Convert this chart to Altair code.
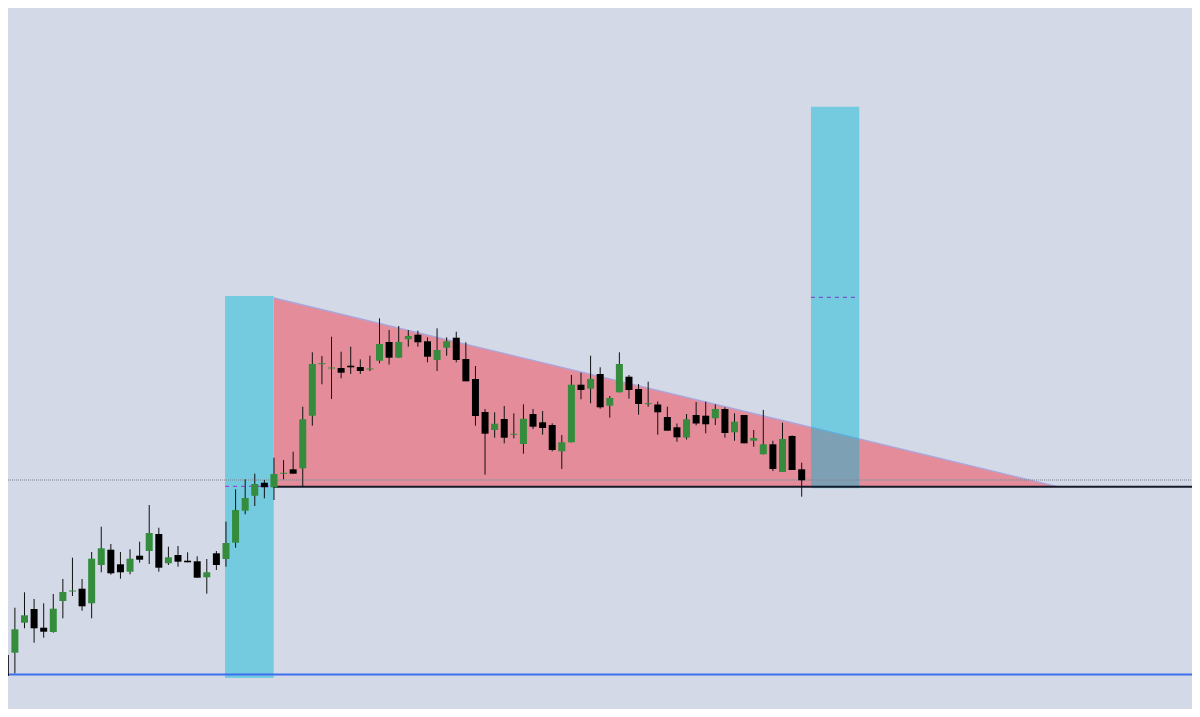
import altair as alt
import pandas as pd

# ---- candle data (price units) ----
opens = [62, 64.3, 94.3, 108, 89.3, 85, 116, 125.5, 128.3, 113.7,
         152, 167.3, 152.7, 145.3, 161.3, 166, 183, 153.7, 162, 156.3,
         155.7, 139.7, 163.7, 158, 174.3, 206.3, 221.3, 234.3, 229.7, 243.2,
         247.7, 248.7, 301.3, 352.8, 348.5, 349, 351.3, 350, 347.5, 356.3,
         375, 359.3, 377.7, 382.3, 375.7, 357, 369.3, 379.3, 358, 338,
         305, 287, 298, 282.2, 273, 303, 294.7, 292, 265.7, 274.7,
         332.3, 328.3, 343, 311.3, 324.7, 340.3, 328, 312.8, 312.5, 300,
         289.7, 279.5, 302, 301.3, 298.7, 308, 284.7, 302, 276.3, 262.7,
         272.7, 245, 281, 247.7]
highs = [63, 109.3, 124.7, 118, 113.7, 123, 138, 159.3, 138, 165,
         190.3, 173, 165, 167.7, 175.3, 212, 189.3, 170.3, 171, 164.7,
         160.7, 158, 166, 195.3, 227.7, 237.7, 243.3, 237, 259.3, 257,
         265.3, 310.3, 364.7, 361, 380.3, 365.3, 370.3, 357.7, 361.3, 398.7,
         387, 391, 387, 386.3, 379.7, 388.7, 379.7, 385.3, 374.7, 351,
         308, 304.7, 311, 303.7, 312.7, 308, 306, 293.7, 282, 342,
         344.3, 361.3, 349.7, 321, 364.7, 342, 333, 335.3, 315.5, 310.3,
         293.5, 303, 315, 315.3, 312.7, 309.7, 303.7, 302, 287, 307,
         276.3, 294.3, 281.7, 254.3]
lows = [36, 43.7, 88.7, 74.3, 79.3, 84.3, 98.7, 121, 106.3, 98.7,
        144.7, 142.3, 138.3, 142.7, 154.3, 153, 145.3, 152, 150.3, 154.7,
        139.3, 123.3, 147, 150.3, 169.3, 202.7, 211, 218.7, 217, 237.7,
        243.3, 230.3, 291.3, 332.7, 318, 338.7, 343, 343, 346, 353.7,
        352.5, 359.3, 370.3, 370.3, 354.7, 346, 361.3, 354.7, 335.7, 291.3,
        242.3, 279.3, 273.7, 278.7, 263.3, 288, 282.3, 265.7, 248, 274.7,
        317.7, 313.7, 308.3, 299.3, 324.7, 318.3, 302.3, 310.3, 282.3, 286.3,
        275.2, 277.5, 291.7, 283.7, 292, 279.3, 276.3, 273.7, 270.3, 262.7,
        246, 245, 247, 220.3]
closes = [41, 87.7, 101.7, 88.7, 85.3, 108.3, 125, 126.5, 110.7, 158.3,
          168.7, 143.7, 144.7, 158.3, 157.3, 184, 149.3, 159.7, 155.3, 154.7,
          139.3, 144.7, 152, 174, 207, 219, 233, 229.7, 243, 244.2,
          243.3, 297.7, 353, 353.8, 349.5, 344.3, 349.7, 346, 348.5, 373,
          359.3, 375, 381, 374.7, 360.3, 367, 375.7, 357, 335.7, 301,
          283.3, 293.3, 279.3, 283.2, 298.3, 290.3, 289, 267, 274.7, 332.3,
          327, 338, 309.7, 319, 353, 327, 313, 313.8, 304.7, 286.3,
          279.7, 297.7, 293.5, 292.7, 308, 284, 295.3, 273.7, 279, 272.7,
          248, 278, 247, 236.7]

# ---- annotation levels (same price units / bar-index units) ----
support_level = 230.3
dotted_level = 237
blue_level = 42.5
tri_top = 419
tri_x = [28.0, 109.66]
box1 = dict(x=22.9, x2=27.97, y=421, y2=39)
box2 = dict(x=83.97, x2=89.0, y=610.3, y2=228.7)
dash1 = dict(x=22.9, x2=27.8, y=230.7)
dash2 = dict(x=83.97, x2=88.56, y=419.7)
x_domain = [0.2814, 123.68]
y_domain = [8, 709]

n = len(opens)
df = pd.DataFrame({
    "i": list(range(n)), "open": opens, "high": highs, "low": lows, "close": closes,
})
df["dir"] = ["up" if c >= o else "down" for o, c in zip(opens, closes)]

xs = alt.Scale(domain=x_domain, nice=False, zero=False, padding=0)
ys = alt.Scale(domain=y_domain, nice=False, zero=False, padding=0)

# triangle
tri_df = pd.DataFrame({"x": tri_x, "top": [tri_top, support_level], "base": [support_level, support_level]})
tri = alt.Chart(tri_df).mark_area(color="#e48c9a", opacity=1, interpolate="linear", clip=True).encode(
    x=alt.X("x:Q", scale=xs, axis=None),
    y=alt.Y("top:Q", scale=ys, axis=None),
    y2="base:Q",
)
tri_edge = alt.Chart(tri_df).mark_line(color="#aaa6dc", strokeWidth=1.3, clip=True).encode(
    x=alt.X("x:Q", scale=xs, axis=None),
    y=alt.Y("top:Q", scale=ys, axis=None),
)

boxes_df = pd.DataFrame([box1, box2])
boxes = alt.Chart(boxes_df).mark_rect(color="#00b8d8", opacity=0.45, clip=True).encode(
    x=alt.X("x:Q", scale=xs, axis=None), x2="x2:Q",
    y=alt.Y("y:Q", scale=ys, axis=None), y2="y2:Q",
)

def hline(x1, x2, y, color, width, dash=None):
    d = pd.DataFrame({"x": [x1], "x2": [x2], "y": [y]})
    kw = dict(color=color, strokeWidth=width, clip=True)
    if dash:
        kw["strokeDash"] = dash
    return alt.Chart(d).mark_rule(**kw).encode(
        x=alt.X("x:Q", scale=xs, axis=None), x2="x2:Q",
        y=alt.Y("y:Q", scale=ys, axis=None),
    )

dotted = hline(x_domain[0], x_domain[1], dotted_level, "#7d828d", 1, [1, 1])
support = hline(27.9, x_domain[1], support_level, "#161a28", 2)
blue = hline(0, x_domain[1], blue_level, "#3d6ef0", 2)
d1 = hline(dash1["x"], dash1["x2"], dash1["y"], "#a046d8", 1.2, [4, 4])
d2 = hline(dash2["x"], dash2["x2"], dash2["y"], "#7755cc", 1.2, [4, 4])

wicks = alt.Chart(df).mark_rule(color="#111111", strokeWidth=1, clip=True).encode(
    x=alt.X("i:Q", scale=xs, axis=None),
    y=alt.Y("low:Q", scale=ys, axis=None),
    y2="high:Q",
)
bodies = alt.Chart(df).mark_bar(size=7, clip=True).encode(
    x=alt.X("i:Q", scale=xs, axis=None),
    y=alt.Y("open:Q", scale=ys, axis=None),
    y2="close:Q",
    color=alt.Color("dir:N", scale=alt.Scale(domain=["up", "down"], range=["#348c3c", "#000000"]), legend=None),
)

chart = alt.layer(tri, tri_edge, boxes, dotted, support, blue, d1, d2, wicks, bodies).properties(
    width=1184, height=701,
    autosize=alt.AutoSizeParams(type="none"),
    padding=0,
    background="#d3d9e6",
).configure_view(stroke=None)

chart.save("out.html", embed_options={"renderer": "svg", "actions": False})
